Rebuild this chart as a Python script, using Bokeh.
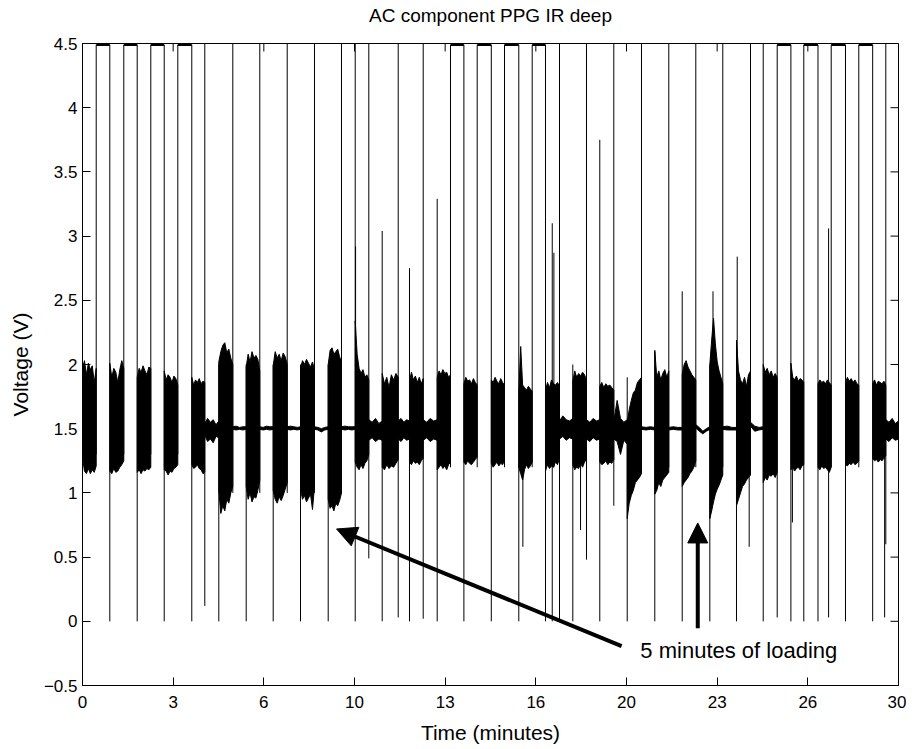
import numpy as np
from bokeh.plotting import figure
from bokeh.models import Range1d, FixedTicker, Arrow, NormalHead, Label, LinearAxis
from bokeh.embed import file_html
from bokeh.resources import INLINE

FONT = "Liberation Sans"

# ---------------- axis ticks ----------------
x_ticks = [0, 3.3333, 6.6667, 10, 13.3333, 16.6667, 20, 23.3333, 26.6667, 30]
x_tick_labels = ["0", "3", "6", "10", "13", "16", "20", "23", "26", "30"]
y_ticks = [-0.5, 0, 0.5, 1, 1.5, 2, 2.5, 3, 3.5, 4, 4.5]
y_tick_labels = ["\u22120.5", "0", "0.5", "1", "1.5", "2", "2.5", "3", "3.5", "4", "4.5"]

# ---------------- trace segments (minutes, volts) ----------------
# each segment: start, end, upper envelope samples, lower envelope samples
trace_start = [0.0, 1.004, 2.011, 3.004, 4.018, 4.496, 5.011, 5.526, 6.018, 6.518,
               7.011, 7.526, 8.015, 8.529, 9.033, 9.522, 10.026, 10.526, 11.018, 11.607,
               12.022, 12.526, 13.040, 14.022, 15.029, 16.040, 17.022, 17.537, 18.026, 18.529,
               19.018, 19.533, 20.026, 20.551, 21.040, 21.555, 22.048, 22.548, 23.063, 23.540,
               24.044, 24.559, 25.026, 26.044, 27.040, 28.051, 29.051, 29.533]
trace_end = [0.504, 1.518, 2.511, 3.504, 4.496, 5.011, 5.526, 6.018, 6.518, 7.011,
             7.526, 8.015, 8.529, 9.033, 9.522, 10.026, 10.526, 11.018, 11.607, 12.022,
             12.526, 13.040, 13.529, 14.511, 15.515, 16.533, 17.537, 18.026, 18.529, 19.018,
             19.533, 20.026, 20.551, 21.040, 21.555, 22.048, 22.548, 23.063, 23.540, 24.044,
             24.559, 25.026, 25.540, 26.518, 27.526, 28.540, 29.533, 30.0]
trace_top = [
    [1.97, 2.03, 1.92, 2.01, 1.96, 1.99, 1.86, 1.97],
    [2.01, 1.90, 1.97, 1.94, 1.86, 1.96, 2.03, 1.97],
    [1.90, 1.97, 1.94, 1.99, 1.95, 1.92, 1.98, 1.97],
    [1.95, 1.88, 1.92, 1.90, 1.86, 1.91, 1.89, 1.84],
    [1.90, 1.84, 1.88, 1.86, 1.89, 1.85, 1.87, 1.86],
    [1.54, 1.58, 1.55, 1.57, 1.53, 1.56],
    [2.02, 2.10, 2.15, 2.17, 2.09, 2.12, 2.05, 2.00],
    [1.515, 1.52, 1.51, 1.515, 1.515],
    [1.98, 2.08, 2.02, 2.10, 2.05, 2.07, 2.04, 1.95],
    [1.515, 1.51, 1.52, 1.515, 1.515],
    [1.99, 2.10, 2.05, 2.08, 2.03, 2.09, 2.06, 2.00],
    [1.515, 1.52, 1.515, 1.51, 1.515],
    [1.97, 2.03, 2.00, 2.04, 2.01, 1.98, 2.02, 1.96],
    [1.515, 1.51, 1.50, 1.51, 1.515],
    [2.00, 2.11, 2.13, 2.08, 2.10, 2.12, 2.06, 2.02],
    [1.515, 1.52, 1.515, 1.515, 1.515],
    [2.34, 2.08, 1.97, 1.93, 1.96, 1.90, 1.92, 1.88],
    [1.57, 1.55, 1.58, 1.54, 1.56],
    [1.93, 1.85, 1.90, 1.82, 1.92, 1.88, 1.93, 1.90],
    [1.56, 1.58, 1.55, 1.57, 1.56],
    [1.87, 1.94, 1.88, 1.91, 1.86, 1.90, 1.85, 1.89],
    [1.57, 1.55, 1.58, 1.56, 1.57],
    [1.90, 1.95, 1.92, 1.96, 1.93, 1.94, 1.90, 1.92],
    [1.85, 1.90, 1.87, 1.88, 1.85, 1.89, 1.86, 1.84],
    [1.88, 1.86, 1.90, 1.87, 1.85, 1.89, 1.86, 1.84],
    [1.78, 2.14, 1.84, 1.82, 1.80, 1.83, 1.81, 1.79],
    [1.80, 1.86, 1.82, 1.88, 1.85, 1.84, 1.86, 1.83],
    [1.56, 1.60, 1.57, 1.56, 1.58],
    [1.87, 1.95, 1.90, 1.93, 1.91, 1.94, 1.92, 1.88],
    [1.57, 1.55, 1.58, 1.56, 1.57],
    [1.83, 1.86, 1.82, 1.85, 1.83, 1.84, 1.82, 1.80],
    [1.56, 1.72, 1.58, 1.55, 1.57],
    [1.55, 1.65, 1.72, 1.78, 1.80, 1.86, 1.88, 1.90],
    [1.515, 1.51, 1.515, 1.51],
    [2.11, 1.90, 1.95, 1.88, 1.93, 1.96, 1.90, 1.95],
    [1.51, 1.515, 1.51, 1.51],
    [1.92, 2.00, 2.03, 1.98, 1.95, 1.92, 1.90, 1.88],
    [1.53, 1.51, 1.48, 1.50, 1.515],
    [2.00, 2.19, 2.36, 2.16, 2.02, 1.95, 1.90, 1.85],
    [1.515, 1.52, 1.51, 1.51],
    [2.19, 1.95, 1.88, 1.85, 1.90, 1.83, 1.92, 1.95],
    [1.55, 1.52, 1.51, 1.515],
    [2.00, 1.94, 1.97, 1.92, 1.95, 1.90, 1.93, 1.90],
    [2.01, 1.90, 1.88, 1.91, 1.87, 1.89, 1.88, 1.86],
    [1.85, 1.88, 1.86, 1.87, 1.85, 1.88, 1.86, 1.84],
    [1.86, 1.90, 1.87, 1.89, 1.86, 1.88, 1.85, 1.84],
    [1.85, 1.88, 1.84, 1.87, 1.86, 1.85, 1.87, 1.84],
    [1.57, 1.55, 1.58, 1.54, 1.56],
]
trace_bottom = [
    [1.28, 1.17, 1.15, 1.19, 1.15, 1.18, 1.16, 1.21],
    [1.17, 1.15, 1.19, 1.16, 1.17, 1.20, 1.22, 1.25],
    [1.16, 1.18, 1.15, 1.18, 1.17, 1.19, 1.18, 1.20],
    [1.18, 1.17, 1.14, 1.17, 1.16, 1.19, 1.20, 1.22],
    [1.22, 1.19, 1.20, 1.22, 1.19, 1.18, 1.15, 1.16],
    [1.45, 1.40, 1.42, 1.39, 1.44, 1.43],
    [1.02, 0.84, 0.90, 0.86, 0.95, 0.92, 1.00, 1.05],
    [1.495, 1.49, 1.495, 1.49, 1.495],
    [1.05, 0.95, 1.00, 0.93, 0.97, 0.96, 1.02, 1.10],
    [1.495, 1.49, 1.495, 1.49, 1.495],
    [1.02, 0.95, 0.92, 0.97, 0.94, 0.98, 1.03, 1.08],
    [1.495, 1.49, 1.495, 1.49, 1.495],
    [1.03, 0.95, 0.98, 0.93, 0.96, 0.99, 0.87, 1.05],
    [1.495, 1.49, 1.475, 1.49, 1.495],
    [0.95, 0.88, 0.90, 0.86, 0.92, 0.90, 0.94, 1.00],
    [1.495, 1.49, 1.495, 1.49, 1.495],
    [1.24, 1.20, 1.18, 1.22, 1.19, 1.23, 1.25, 1.30],
    [1.41, 1.43, 1.40, 1.42, 1.41],
    [1.20, 1.18, 1.22, 1.19, 1.21, 1.20, 1.23, 1.26],
    [1.42, 1.40, 1.43, 1.41, 1.42],
    [1.24, 1.22, 1.25, 1.23, 1.24, 1.22, 1.25, 1.27],
    [1.41, 1.43, 1.40, 1.42, 1.41],
    [1.18, 1.20, 1.22, 1.19, 1.21, 1.18, 1.22, 1.24],
    [1.24, 1.22, 1.25, 1.23, 1.22, 1.24, 1.26, 1.28],
    [1.23, 1.20, 1.22, 1.24, 1.21, 1.23, 1.22, 1.25],
    [1.20, 1.15, 1.10, 1.18, 1.22, 1.19, 1.21, 1.24],
    [1.17, 1.22, 1.19, 1.21, 1.20, 1.24, 1.22, 1.27],
    [1.42, 1.44, 1.41, 1.43, 1.42],
    [1.22, 1.18, 1.20, 1.19, 1.23, 1.20, 1.24, 1.26],
    [1.42, 1.40, 1.43, 1.41, 1.42],
    [1.24, 1.22, 1.23, 1.25, 1.22, 1.24, 1.23, 1.26],
    [1.42, 1.40, 1.30, 1.41, 1.38],
    [0.80, 0.92, 0.98, 1.02, 1.08, 1.10, 1.12, 1.15],
    [1.495, 1.49, 1.495, 1.49],
    [0.99, 1.02, 1.08, 1.05, 1.10, 1.12, 1.14, 1.16],
    [1.49, 1.495, 1.49, 1.49],
    [1.05, 1.08, 1.10, 1.12, 1.15, 1.17, 1.20, 1.25],
    [1.505, 1.48, 1.46, 1.48, 1.495],
    [0.80, 0.86, 0.93, 0.99, 1.03, 1.06, 1.10, 1.14],
    [1.495, 1.49, 1.49, 1.49],
    [0.90, 0.95, 1.00, 1.05, 1.07, 1.10, 1.12, 1.14],
    [1.52, 1.48, 1.49, 1.495],
    [1.08, 1.12, 1.10, 1.14, 1.13, 1.15, 1.12, 1.16],
    [1.18, 1.20, 1.17, 1.19, 1.20, 1.18, 1.21, 1.22],
    [1.20, 1.18, 1.21, 1.19, 1.20, 1.18, 1.16, 1.20],
    [1.22, 1.21, 1.23, 1.22, 1.24, 1.22, 1.23, 1.25],
    [1.27, 1.25, 1.26, 1.24, 1.26, 1.25, 1.27, 1.29],
    [1.42, 1.40, 1.43, 1.41, 1.42],
]

# saturated stretches at the top rail
sat_start = [0.504, 1.518, 2.511, 3.504, 13.529, 14.511, 15.515, 16.533, 25.540, 26.518, 27.526, 28.540]
sat_end = [1.004, 2.011, 3.004, 4.018, 14.022, 15.029, 16.040, 17.022, 26.044, 27.040, 28.051, 29.051]
sat_level = 4.49

# vertical jumps of the trace: time, lowest and highest value reached
spike_t = [0.504, 1.004, 1.518, 2.011, 2.511, 3.004, 3.504, 4.018, 4.496, 5.011,
           5.526, 6.018, 6.518, 7.011, 7.526, 8.015, 8.529, 9.033, 9.522, 10.026,
           10.04, 10.526, 11.018, 11.607, 12.022, 12.526, 13.040, 13.529, 14.022, 14.511,
           15.029, 15.515, 16.040, 16.19, 16.533, 17.022, 17.27, 17.33, 17.537, 18.026,
           18.31, 18.529, 19.018, 19.533, 20.026, 20.551, 21.040, 21.555, 22.048, 22.548,
           23.063, 23.18, 23.540, 24.044, 24.07, 24.51, 24.559, 25.026, 25.540, 26.044,
           26.10, 26.518, 27.040, 27.43, 27.526, 28.051, 28.540, 29.051, 29.49, 29.533]
spike_lo = [1.30, 0.00, 1.30, 0.00, 1.30, 0.00, 1.30, 0.00, 0.12, 0.00,
            1.00, 0.00, 1.00, 0.00, 1.00, 0.00, 1.00, 0.00, 1.00, 0.00,
            1.30, 0.49, 0.00, 0.03, 0.00, 0.02, 0.00, 1.20, 0.00, 1.20,
            0.00, 1.20, 0.00, 0.58, 1.20, 0.00, 0.00, 1.20, 0.00, 0.00,
            0.71, 0.48, 0.00, 0.90, 0.00, 1.20, 0.00, 1.20, 0.00, 1.20,
            0.00, 1.20, 1.20, 0.00, 1.20, 0.58, 1.20, 0.00, 0.03, 0.00,
            0.77, 0.00, 0.00, 0.03, 1.20, 0.00, 1.20, 0.00, 0.03, 0.60]
spike_hi = [4.49, 4.49, 4.49, 4.49, 4.49, 4.49, 4.49, 4.49, 4.50, 2.00,
            4.50, 2.00, 4.50, 2.00, 4.50, 2.00, 4.50, 2.00, 4.50, 4.50,
            2.92, 4.50, 3.04, 4.50, 2.75, 4.50, 3.29, 4.49, 4.49, 4.49,
            4.49, 4.49, 4.49, 1.50, 4.49, 4.49, 3.10, 2.87, 4.50, 2.00,
            1.50, 4.50, 3.75, 4.50, 1.90, 4.50, 2.10, 4.50, 2.57, 4.50,
            2.00, 2.57, 4.50, 2.00, 2.84, 1.50, 4.50, 4.50, 4.49, 4.49,
            1.50, 4.49, 4.49, 3.06, 4.49, 4.49, 4.49, 4.49, 1.50, 4.50]

# texts
title_text = "AC component PPG IR deep"
x_label = "Time (minutes)"
y_label = "Voltage (V)"
note_text = "5 minutes of loading"
note_x, note_y = 20.51, -0.224
arrow1 = (19.82, -0.193, 9.34, 0.719)
arrow2 = (22.62, -0.055, 22.62, 0.766)

# ---------------- figure ----------------
x_lo, x_hi = 0, 30
y_lo, y_hi = -0.5, 4.5
p = figure(width=906, height=747, x_range=Range1d(x_lo, x_hi), y_range=Range1d(y_lo, y_hi),
           output_backend="svg", toolbar_location=None,
           min_border_left=82, min_border_right=8, min_border_top=43, min_border_bottom=62)
p.background_fill_color = "white"
p.border_fill_color = "white"
p.outline_line_color = "black"
p.outline_line_width = 1
p.grid.visible = False

p.title.text = title_text
p.title.align = "center"
p.title.vertical_align = "bottom"
p.title.standoff = 0
p.title.text_font = FONT
p.title.text_font_size = "19px"
p.title.text_font_style = "normal"
p.title.text_color = "black"


def style_axis(ax):
    ax.major_tick_in = 8
    ax.major_tick_out = 0
    ax.minor_tick_line_color = None
    ax.axis_line_color = "black"
    ax.major_tick_line_color = "black"
    ax.major_label_text_font = FONT
    ax.major_label_text_color = "black"
    ax.major_label_text_font_size = "17px"
    ax.axis_label_text_font = FONT
    ax.axis_label_text_font_size = "21px"
    ax.axis_label_text_font_style = "normal"
    ax.axis_label_text_color = "black"


xax = p.below[0]
xax.ticker = FixedTicker(ticks=x_ticks)
xax.major_label_overrides = dict(zip(x_ticks, x_tick_labels))
style_axis(xax)
xax.major_label_standoff = 10
xax.axis_label = x_label
xax.axis_label_standoff = 10

yax = p.left[0]
yax.ticker = FixedTicker(ticks=y_ticks)
yax.major_label_overrides = dict(zip(y_ticks, y_tick_labels))
style_axis(yax)
yax.major_label_standoff = 5
yax.axis_label = y_label
yax.axis_label_standoff = 9

# invisible spacer between the title and the top of the box:
# an axis whose tick lines and labels are switched off, keeping only its tick length as space
spacer = LinearAxis(ticker=FixedTicker(ticks=[x_ticks[0]]), major_tick_out=18, major_tick_in=0,
                    axis_line_color=None, major_tick_line_color=None, minor_tick_line_color=None,
                    major_label_text_color=None, major_label_text_alpha=0, major_label_standoff=0)
p.add_layout(spacer, "above")

# mirrored inward ticks on the top and right edges of the box
p.scatter(x=x_ticks, y=[y_hi] * len(x_ticks), marker="dash", size=16, angle=np.pi / 2,
          line_color="black", line_width=1)
p.scatter(x=[x_hi] * len(y_ticks), y=y_ticks, marker="dash", size=16,
          line_color="black", line_width=1)

# trace envelopes
xs, ys = [], []
for t0, t1, top, bot in zip(trace_start, trace_end, trace_top, trace_bottom):
    xt = np.linspace(t0, t1, len(top))
    xb = np.linspace(t0, t1, len(bot))
    xs.append(list(xt) + list(xb[::-1]))
    ys.append(list(top) + list(bot[::-1]))
p.patches(xs, ys, fill_color="black", line_color="black", line_width=1)

# saturation runs
p.segment(x0=sat_start, y0=[sat_level] * len(sat_start), x1=sat_end, y1=[sat_level] * len(sat_end),
          line_color="black", line_width=2.5)

# vertical jumps
p.segment(x0=spike_t, y0=spike_lo, x1=spike_t, y1=spike_hi, line_color="black", line_width=1)

# annotations
for (xs0, ys0, xe, ye) in (arrow1, arrow2):
    p.add_layout(Arrow(end=NormalHead(size=20, fill_color="black", line_color="black", line_width=1),
                       x_start=xs0, y_start=ys0, x_end=xe, y_end=ye,
                       line_color="black", line_width=4))
p.add_layout(Label(x=note_x, y=note_y, text=note_text, text_font=FONT, text_font_size="22px",
                   text_baseline="middle", text_align="left", text_color="black"))

open("out.html", "w").write(file_html(p, INLINE))
